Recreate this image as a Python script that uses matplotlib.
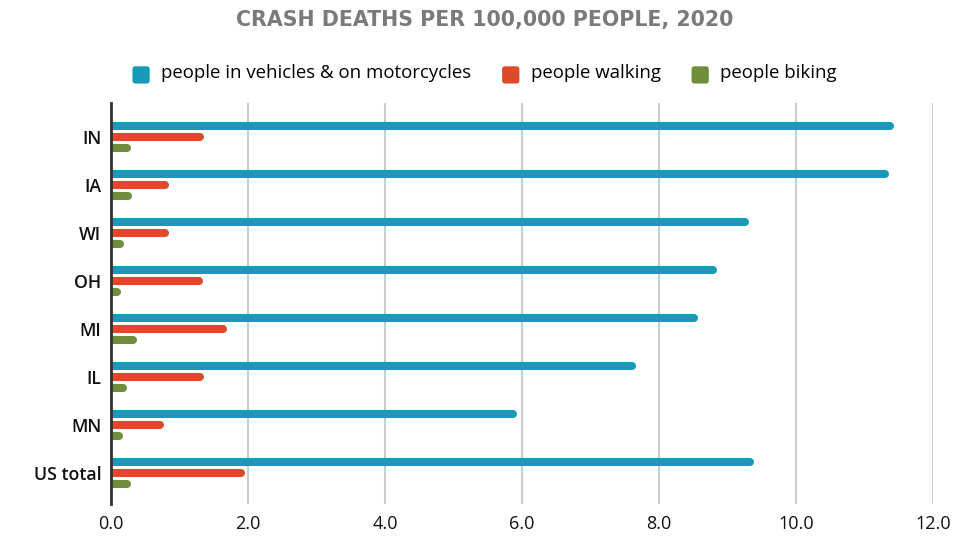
import matplotlib
matplotlib.use("Agg")
import matplotlib.pyplot as plt
from matplotlib.patches import FancyBboxPatch, Patch
from matplotlib.legend_handler import HandlerPatch
import numpy as np

plt.rcParams['font.family'] = ['Open Sans', 'DejaVu Sans']

states = ["IN", "IA", "WI", "OH", "MI", "IL", "MN", "US total"]
vehicles = [11.43, 11.36, 9.31, 8.84, 8.57, 7.66, 5.93, 9.38]
walking = [1.36, 0.85, 0.85, 1.34, 1.69, 1.36, 0.78, 1.96]
biking = [0.29, 0.31, 0.19, 0.15, 0.38, 0.24, 0.17, 0.29]
series_names = ["people in vehicles & on motorcycles", "people walking", "people biking"]
xticks = [0, 2, 4, 6, 8, 10, 12]

colors = ["#169ab9", "#dc4a29", "#6e8e3b"]

fig = plt.figure(figsize=(9.7, 5.37), dpi=100)
ax = fig.add_axes([111 / 970, 1 - 504 / 537, 822 / 970, 401 / 537])

y = np.arange(len(states))
offset = 0.235
lw_pt = 5.8
# half of the line width, in data units, so the round caps end at the value
px_per_unit = 822 / 12
cap = (lw_pt / 72 * 100 / 2) / px_per_unit

for vals, dy, c in zip([vehicles, walking, biking], [-offset, 0, offset], colors):
    vals = np.asarray(vals)
    ax.hlines(y + dy, 0, vals - cap, colors=c, linewidth=lw_pt,
              capstyle='round', zorder=3)

ax.set_xlim(0, 12)
ax.set_ylim(7.646, -0.708)
ax.set_xticks(xticks)
ax.set_xticklabels([f"{t:.1f}" for t in xticks], fontsize=13, color="#111111")
ax.set_yticks(y)
ax.set_yticklabels(states, fontsize=12.8, fontweight='semibold', color="#111111")
ax.tick_params(axis='both', length=0)
ax.tick_params(axis='x', pad=8)
ax.tick_params(axis='y', pad=7)

ax.grid(axis='x', color="#cccccc", linewidth=1.5, zorder=0)
ax.set_axisbelow(True)
for s in ["top", "right", "bottom"]:
    ax.spines[s].set_visible(False)
ax.spines["left"].set_color("#333333")
ax.spines["left"].set_linewidth(2)
ax.spines["left"].set_zorder(4)

fig.text(0.5, 1 - 20 / 537, "CRASH DEATHS PER 100,000 PEOPLE, 2020", ha='center',
         va='center', fontsize=14.8, color="#7a7a7a", family='DejaVu Sans',
         fontweight='bold')


class RoundSquare(HandlerPatch):
    def create_artists(self, legend, orig_handle, xdescent, ydescent, width,
                       height, fontsize, trans):
        side = min(width, height) * 1.0
        p = FancyBboxPatch((-xdescent + (width - side) / 2, -ydescent + (height - side) / 2 - 2),
                           side, side, boxstyle="round,pad=0,rounding_size=2",
                           facecolor=orig_handle.get_facecolor(), edgecolor='none',
                           transform=trans)
        return [p]


handles = [Patch(facecolor=c) for c in colors]
fig.legend(handles, series_names, loc='center', bbox_to_anchor=(484 / 970, 1 - 73 / 537),
           ncol=3, frameon=False, fontsize=13.4, handlelength=1.05, handleheight=1.05,
           handletextpad=0.55, columnspacing=1.6,
           handler_map={Patch: RoundSquare()})

fig.savefig("out.png", dpi=100)
